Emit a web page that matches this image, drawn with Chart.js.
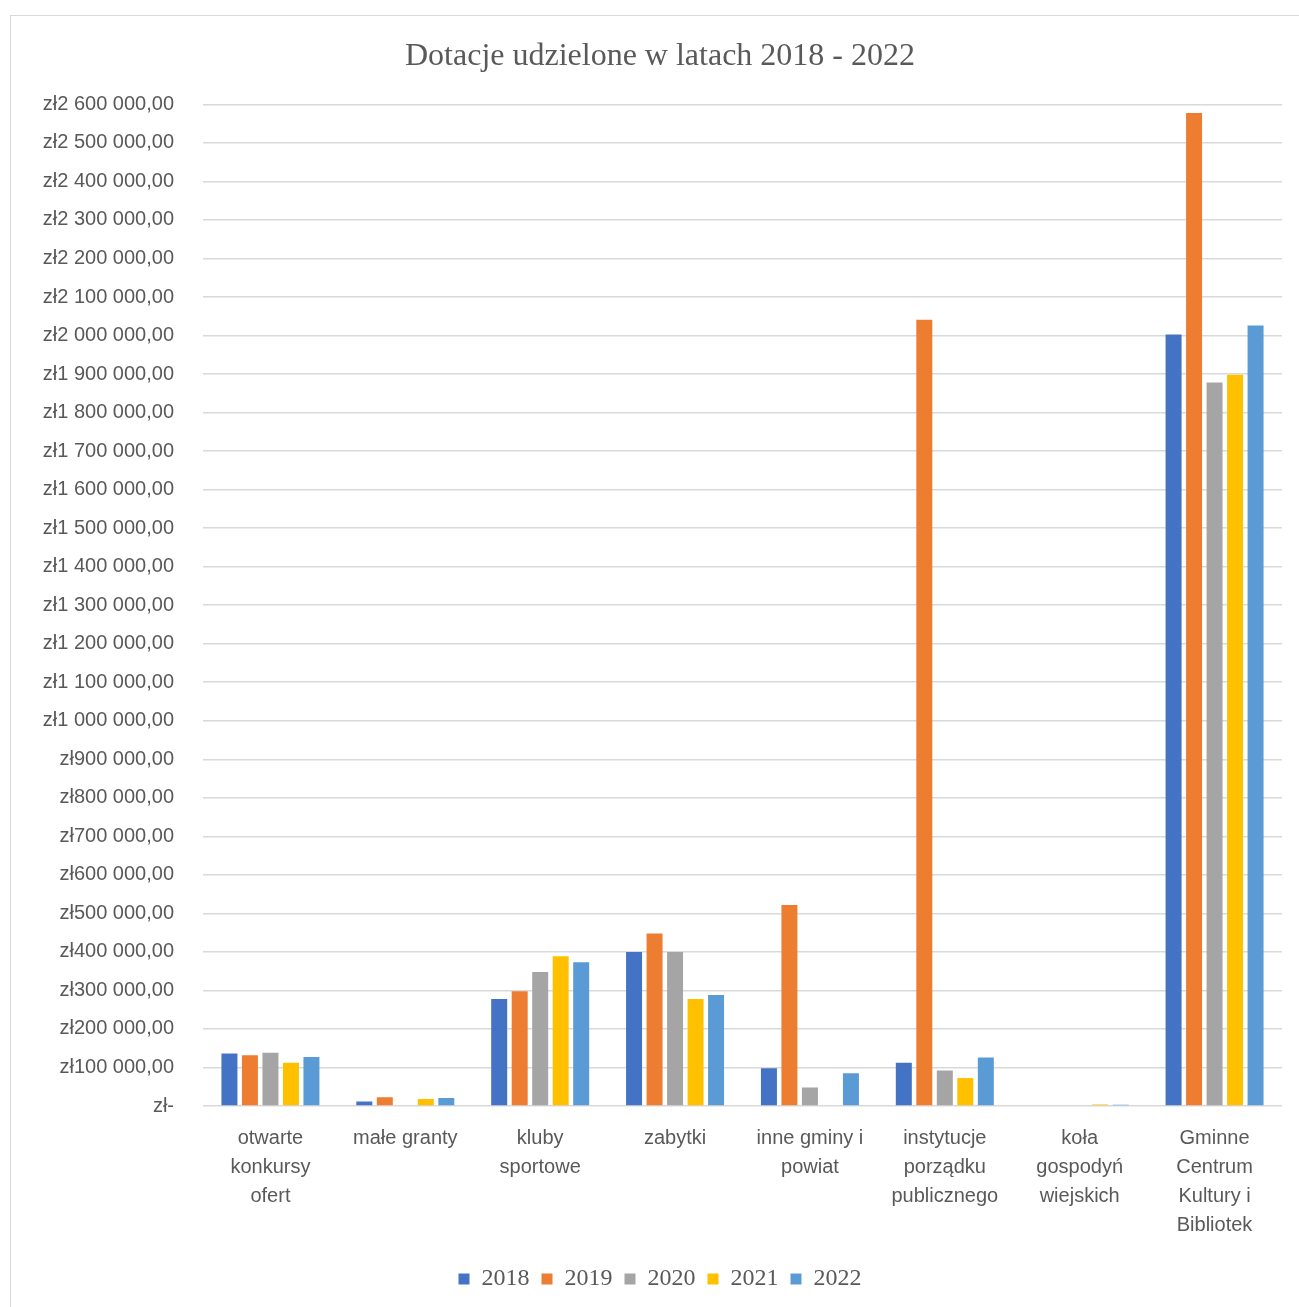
<!DOCTYPE html>
<html>
<head>
<meta charset="utf-8">
<script src="https://cdn.jsdelivr.net/npm/chart.js@4"></script>
<style>
  body { margin: 0; background: #fff; }
  #frame { position: absolute; left: 10px; top: 15px; width: 1300px; height: 1300px; border: 1px solid #d9d9d9; }
  #wrap { position: absolute; left: 0; top: 0; width: 1299px; height: 1307px; }
</style>
</head>
<body>
<div id="frame"></div>
<div id="wrap"><canvas id="chart"></canvas></div>
<script>
// categories (split into lines like the original)
const categories = [
    ['otwarte', 'konkursy', 'ofert'],
    ['małe granty'],
    ['kluby', 'sportowe'],
    ['zabytki'],
    ['inne gminy i', 'powiat'],
    ['instytucje', 'porządku', 'publicznego'],
    ['koła', 'gospodyń', 'wiejskich'],
    ['Gminne', 'Centrum', 'Kultury i', 'Bibliotek']
];
const years = ['2018', '2019', '2020', '2021', '2022'];

// values (zł)
const v2018 = [136000, 12000, 278000, 400000, 98000, 112000, 0, 2003000];
const v2019 = [132000, 23000, 298000, 448000, 522000, 2041000, 0, 2578000];
const v2020 = [138000, 0, 348000, 400000, 48000, 92000, 0, 1878000];
const v2021 = [112000, 18000, 389000, 278000, 0, 73000, 4000, 1898000];
const v2022 = [127000, 21000, 373000, 288000, 85000, 126000, 3000, 2026000];

const colors = ['#4472c4', '#ed7d31', '#a5a5a5', '#ffc000', '#5b9bd5'];

function zl(v) {
    if (v === 0) return 'zł-';
    const s = Math.round(v).toString().replace(/\B(?=(\d{3})+(?!\d))/g, ' ');
    return 'zł' + s + ',00';
}

const series = [v2018, v2019, v2020, v2021, v2022];

new Chart(document.getElementById('chart'), {
    type: 'bar',
    data: {
        labels: categories,
        datasets: series.map((d, i) => ({
            label: years[i],
            data: d,
            backgroundColor: colors[i],
            borderWidth: 0,
            categoryPercentage: 0.76,
            barPercentage: 0.78
        }))
    },
    options: {
        responsive: true,
        maintainAspectRatio: false,
        animation: false,
        layout: { padding: { left: 38, right: 17, bottom: 6 } },
        plugins: {
            title: {
                display: true,
                text: 'Dotacje udzielone w latach 2018 - 2022',
                color: '#595959',
                font: { family: 'Liberation Serif', size: 32, weight: 'normal' },
                padding: { top: 37, bottom: 29 }
            },
            legend: {
                position: 'bottom',
                labels: {
                    color: '#595959',
                    font: { family: 'Liberation Serif', size: 24 },
                    boxWidth: 11,
                    boxHeight: 11,
                    padding: 12
                }
            },
            tooltip: { enabled: false }
        },
        scales: {
            x: {
                grid: { display: false },
                border: { display: false },
                ticks: {
                    color: '#595959',
                    font: { family: 'Liberation Sans', size: 20, lineHeight: 1.45 },
                    maxRotation: 0,
                    autoSkip: false,
                    padding: 10
                },
                afterFit: scale => { scale.height = 149; }
            },
            y: {
                min: 0,
                max: 2600000,
                grid: { color: '#d9d9d9', lineWidth: 1.5, drawTicks: false },
                border: { display: false },
                ticks: {
                    stepSize: 100000,
                    color: '#595959',
                    font: { family: 'Liberation Sans', size: 20 },
                    padding: 29,
                    callback: v => zl(v)
                },
                afterFit: scale => { scale.width = 165; }
            }
        }
    }
});
</script>
</body>
</html>
